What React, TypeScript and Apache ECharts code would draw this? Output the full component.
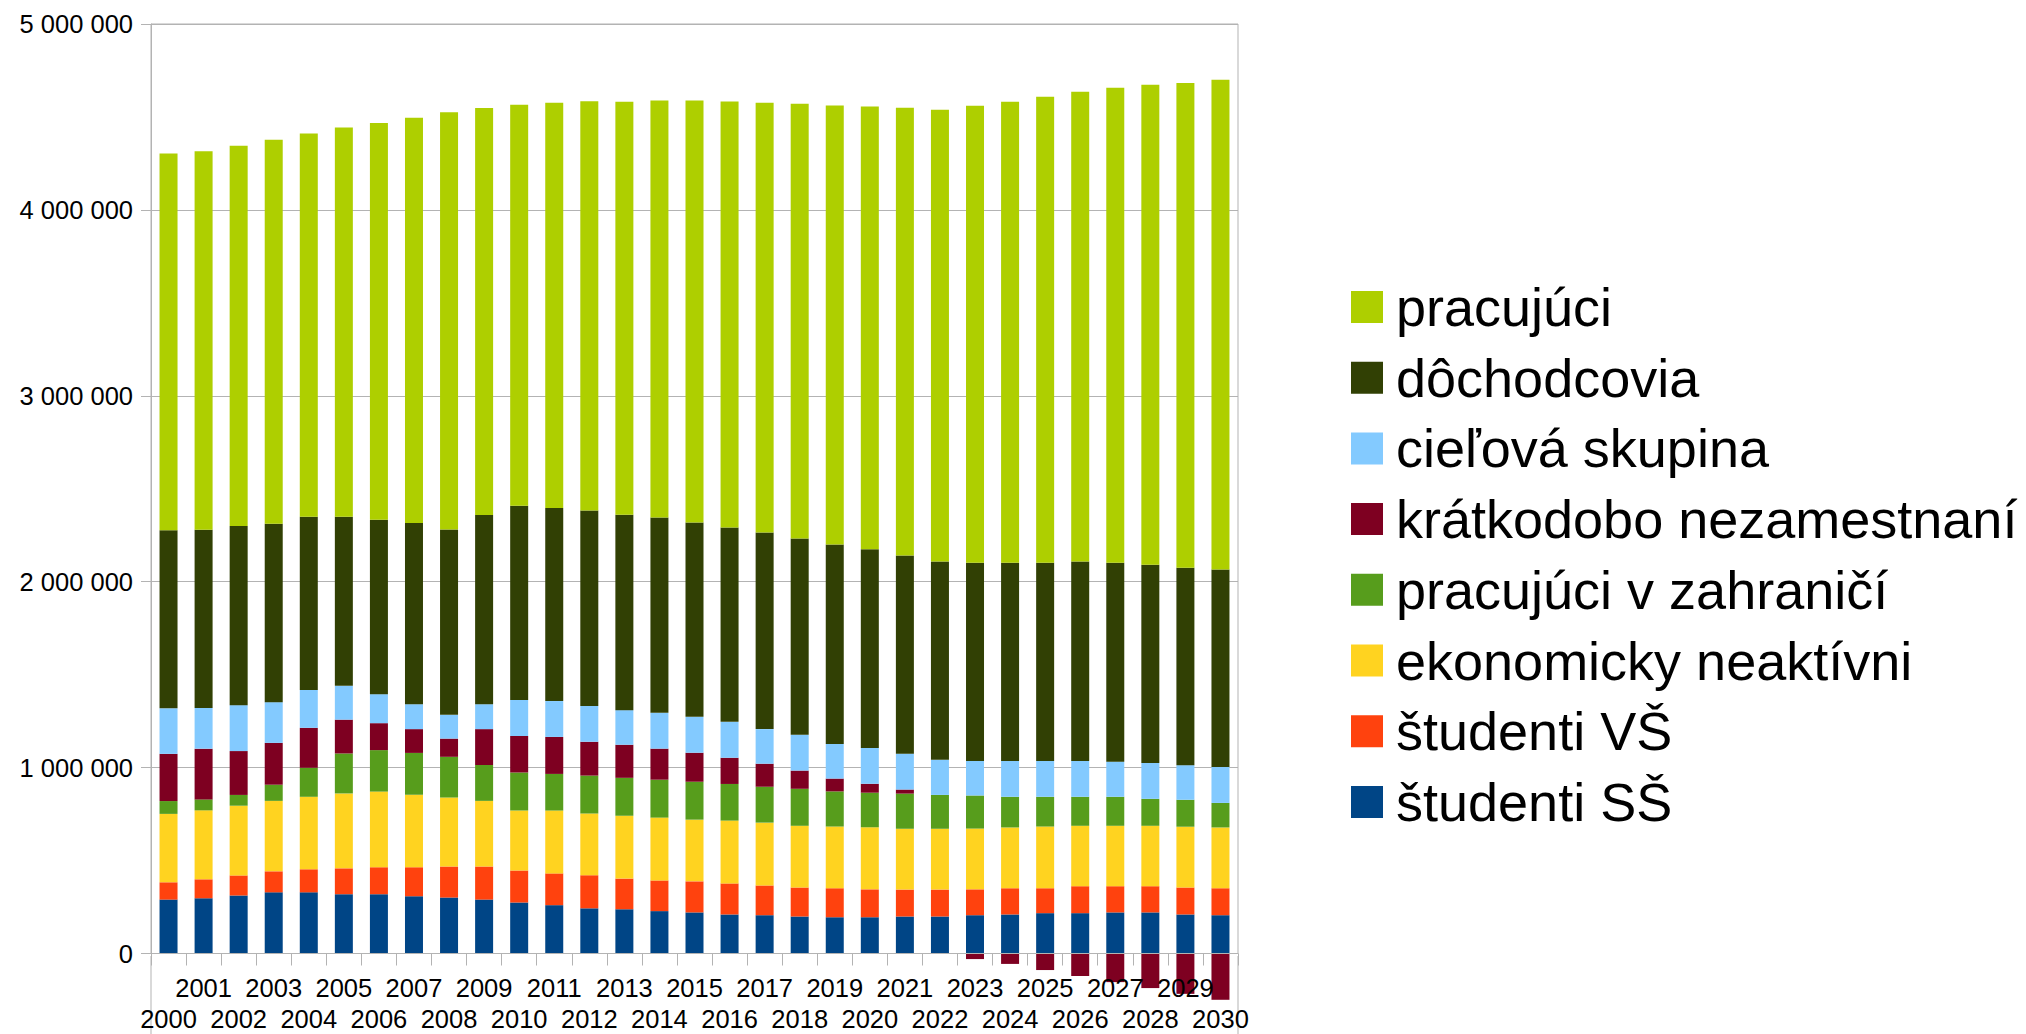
import React, { useEffect, useRef } from "react";
import * as echarts from "echarts";

const years = ["2000","2001","2002","2003","2004","2005","2006","2007","2008","2009","2010","2011","2012","2013","2014","2015","2016","2017","2018","2019","2020","2021","2022","2023","2024","2025","2026","2027","2028","2029","2030"];

const yTicks = [0, 1000000, 2000000, 3000000, 4000000, 5000000];

// values in thousands of persons
const studentiSS = [290,297,312,329,329,319,319,308,301,290,275,260,243,238,228,221,210,206,199,195,195,199,199,206,210,217,217,221,221,210,206];
const studentiVS = [93,102,108,113,124,139,145,156,167,178,171,171,178,165,165,167,167,160,156,156,150,145,145,139,141,134,145,141,141,145,145];
const ekonNeaktivni = [368,371,375,379,390,403,407,390,371,353,323,338,332,338,338,332,338,338,332,332,334,327,327,327,327,332,325,325,325,327,327];
const pracujuciZahranici = [69,59,58,87,156,215,223,225,219,193,204,197,204,204,204,204,197,193,199,189,186,189,182,178,165,160,156,156,145,145,132];
const kratkodoboNezam = [254,273,236,225,215,182,145,128,98,193,197,199,182,178,167,156,141,124,98,69,48,22,0,-30,-56,-89,-121,-154,-186,-217,-249];
const cielovaSkupina = [245,219,247,219,204,182,156,134,128,134,193,193,193,186,193,193,193,186,193,186,193,193,189,186,193,193,193,189,193,186,193];
const dochodcovia = [958,958,964,960,932,910,938,975,997,1018,1045,1038,1051,1051,1051,1045,1045,1058,1055,1073,1068,1066,1066,1066,1066,1066,1073,1070,1066,1062,1062];
const pracujuci = [2026,2036,2045,2066,2061,2093,2135,2180,2244,2189,2158,2180,2201,2222,2243,2271,2292,2312,2339,2361,2382,2408,2431,2458,2480,2506,2527,2555,2582,2608,2635];

const seriesDefs = [
  { name: "študenti SŠ", data: studentiSS, color: "#004586" },
  { name: "študenti VŠ", data: studentiVS, color: "#ff420e" },
  { name: "ekonomicky neaktívni", data: ekonNeaktivni, color: "#ffd320" },
  { name: "pracujúci v zahraničí", data: pracujuciZahranici, color: "#579d1c" },
  { name: "krátkodobo nezamestnaní", data: kratkodoboNezam, color: "#7e0021" },
  { name: "cieľová skupina", data: cielovaSkupina, color: "#83caff" },
  { name: "dôchodcovia", data: dochodcovia, color: "#314004" },
  { name: "pracujúci", data: pracujuci, color: "#aecf00" },
];

const W = 2026;
const H = 1034;
const GRID_LEFT = 151;
const GRID_RIGHT = 788;
const GRID_TOP = 24;
const GRID_BOTTOM = 78;
const LINE = "#b3b3b3";
const FONT = "Liberation Sans";

function fmt(v: number) {
  return String(v).replace(/\B(?=(\d{3})+(?!\d))/g, " ");
}

export default function App() {
  const ref = useRef<HTMLDivElement>(null);
  useEffect(() => {
    if (!ref.current) return;
    const chart = echarts.init(ref.current, null, { renderer: "svg" });
    const zeroY = H - GRID_BOTTOM;
    const rightX = W - GRID_RIGHT;
    chart.setOption({
      animation: false,
      backgroundColor: "#ffffff",
      textStyle: { fontFamily: FONT, color: "#000" },
      grid: {
        left: GRID_LEFT,
        right: GRID_RIGHT,
        top: GRID_TOP,
        bottom: GRID_BOTTOM,
        show: true,
        borderColor: LINE,
        borderWidth: 1,
        backgroundColor: "transparent",
      },
      legend: {
        orient: "vertical",
        left: 1351,
        top: 280,
        padding: 0,
        itemWidth: 32,
        itemHeight: 32,
        itemGap: 16.7,
        icon: "rect",
        selectedMode: false,
        data: seriesDefs.map((s) => s.name).reverse(),
        textStyle: {
          fontFamily: FONT,
          fontSize: 54,
          lineHeight: 54,
          color: "#000",
          padding: [0, 0, 0, 8],
        },
      },
      xAxis: {
        type: "category",
        data: years,
        boundaryGap: true,
        z: 10,
        axisLine: { show: true, lineStyle: { color: LINE, width: 1 } },
        axisTick: { show: true, interval: 0, length: 12, lineStyle: { color: LINE } },
        axisLabel: {
          interval: 0,
          margin: 18.5,
          fontFamily: FONT,
          fontSize: 25.5,
          lineHeight: 31,
          color: "#000",
          formatter: (v: string, i: number) => (i % 2 === 0 ? "\n" + v : v),
        },
        splitLine: { show: false },
      },
      yAxis: {
        type: "value",
        min: yTicks[0],
        max: yTicks[yTicks.length - 1],
        interval: yTicks[1] - yTicks[0],
        axisLine: { show: true, lineStyle: { color: LINE, width: 1 } },
        axisTick: { show: true, length: 10, lineStyle: { color: LINE } },
        axisLabel: {
          margin: 18,
          fontFamily: FONT,
          fontSize: 25.5,
          color: "#000",
          formatter: (v: number) => fmt(v),
        },
        splitLine: { show: true, lineStyle: { color: LINE, width: 1 } },
      },
      series: seriesDefs.map((s) => ({
        name: s.name,
        type: "bar",
        stack: "total",
        barWidth: 18,
        clip: false,
        itemStyle: { color: s.color },
        data: s.data.map((v) => v * 1000),
      })),
      graphic: [
        {
          type: "line",
          shape: { x1: GRID_LEFT, y1: zeroY, x2: GRID_LEFT, y2: H },
          style: { stroke: LINE, lineWidth: 1 },
          silent: true,
        },
        {
          type: "line",
          shape: { x1: rightX, y1: zeroY, x2: rightX, y2: H },
          style: { stroke: LINE, lineWidth: 1 },
          silent: true,
        },
      ],
    });
    return () => chart.dispose();
  }, []);
  return (
    <div
      ref={ref}
      style={{ position: "fixed", left: 0, top: 0, width: W, height: H, background: "#fff" }}
    />
  );
}
